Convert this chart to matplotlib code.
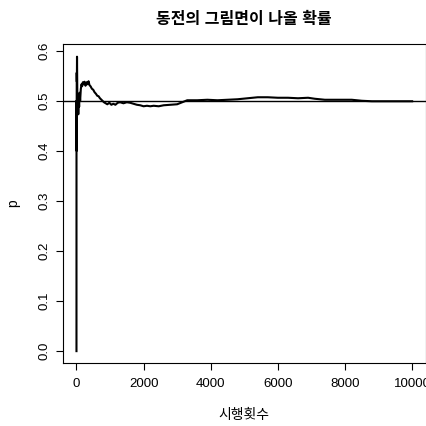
import matplotlib
matplotlib.use('Agg')
import matplotlib.pyplot as plt

plt.rcParams['font.family'] = ['Liberation Sans', 'Noto Sans CJK KR']

# ======================================
# Cumulative proportion of heads
# ======================================
trials = [1, 2, 5, 9, 13, 17, 25, 35, 45, 55, 65, 80, 95, 110, 130, 150, 170,
          190, 210, 240, 270, 300, 330, 360, 390, 420, 460, 500, 540, 580, 620,
          660, 700, 760, 820, 870, 920, 980, 1040, 1100, 1160, 1230, 1300, 1400,
          1500, 1600, 1700, 1800, 1900, 2000, 2100, 2200, 2300, 2450, 2600, 2800,
          3000, 3150, 3300, 3600, 3900, 4200, 4500, 4800, 5100, 5400, 5700, 6000,
          6300, 6600, 6900, 7100, 7400, 7800, 8200, 8500, 8800, 9200, 9600, 10000]
prop = [0.0, 0.5, 0.4, 0.556, 0.538, 0.588, 0.52, 0.486, 0.511, 0.473, 0.508,
        0.488, 0.516, 0.50, 0.523, 0.533, 0.529, 0.537, 0.533, 0.538, 0.53,
        0.537, 0.533, 0.539, 0.531, 0.529, 0.524, 0.522, 0.517, 0.514, 0.51,
        0.509, 0.505, 0.501, 0.497, 0.495, 0.493, 0.496, 0.492, 0.494, 0.492,
        0.496, 0.497, 0.495, 0.497, 0.496, 0.494, 0.492, 0.491, 0.489, 0.49,
        0.489, 0.49, 0.489, 0.491, 0.492, 0.493, 0.497, 0.501, 0.501, 0.502,
        0.501, 0.502, 0.503, 0.505, 0.507, 0.507, 0.506, 0.506, 0.505, 0.506,
        0.504, 0.502, 0.502, 0.502, 0.500, 0.499, 0.499, 0.499, 0.499]

xticks = [0, 2000, 4000, 6000, 8000, 10000]
yticks = [0.0, 0.1, 0.2, 0.3, 0.4, 0.5, 0.6]

fig = plt.figure(figsize=(4.26, 4.26), dpi=100)
ax = fig.add_axes([0.148, 0.148, 0.851, 0.749])

ax.plot(trials, prop, color='black', lw=1.5)
ax.axhline(0.5, color='black', lw=1.0)

ax.set_xlim(-399, 10400)
ax.set_ylim(-0.0236, 0.6136)
ax.set_xticks(xticks)
ax.set_xticklabels([str(t) for t in xticks], fontsize=9.5)
ax.set_yticks(yticks)
ax.set_yticklabels(['%.1f' % t for t in yticks], fontsize=9.5, rotation=90, va='center')
ax.tick_params(direction='out', length=5, width=0.8)
ax.tick_params(axis='x', pad=6)
ax.tick_params(axis='y', pad=4)
for s in ax.spines.values():
    s.set_linewidth(0.8)

ax.set_title('동전의 그림면이 나올 확률', fontsize=11.5, fontweight='bold', pad=14)
ax.set_xlabel('시행횟수', fontsize=10, labelpad=13)
ax.set_ylabel('p', fontsize=10, labelpad=13)

fig.savefig('out.png', dpi=100)
